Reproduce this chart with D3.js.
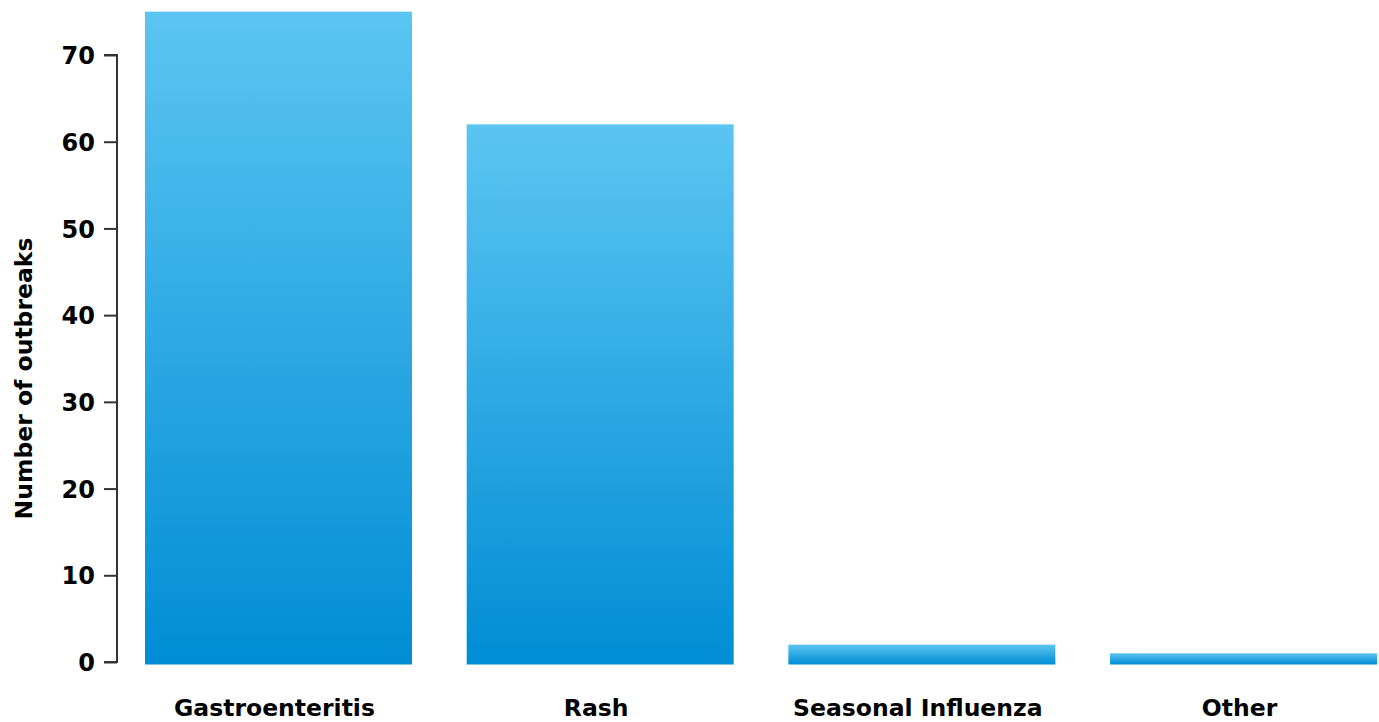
<!DOCTYPE html>
<html>
<head>
<meta charset="utf-8">
<script src="https://cdn.jsdelivr.net/npm/d3@7"></script>
<style>
  body { margin: 0; background: #fff; }
  text { font-family: "DejaVu Sans", sans-serif; font-weight: 700; fill: #000; }
</style>
</head>
<body>
<div id="chart"></div>
<script>
// chart values
var categories = ["Gastroenteritis", "Rash", "Seasonal Influenza", "Other"];
var outbreaks = [75, 62, 2, 1];
var yTicks = [0, 10, 20, 30, 40, 50, 60, 70];

var width = 1379, height = 722;

var svg = d3.select("#chart").append("svg")
    .attr("width", width)
    .attr("height", height);

var x = d3.scaleBand()
    .domain(categories)
    .range([145, 1377])
    .paddingInner(0.17)
    .paddingOuter(0);

var y = d3.scaleLinear()
    .domain([0, 70])
    .range([662, 55]);

// gradient, light at top, dark at bottom, one per bar
var defs = svg.append("defs");
var grad = defs.append("linearGradient")
    .attr("id", "barGrad")
    .attr("x1", 0).attr("y1", 0)
    .attr("x2", 0).attr("y2", 1);
grad.append("stop").attr("offset", "0%").attr("stop-color", "#5BC5F2");
grad.append("stop").attr("offset", "100%").attr("stop-color", "#008DD5");

svg.selectAll(".bar")
    .data(categories)
    .enter().append("rect")
    .attr("class", "bar")
    .attr("x", function(d){ return x(d); })
    .attr("width", x.bandwidth())
    .attr("y", function(d, i){ return y(outbreaks[i]); })
    .attr("height", function(d, i){ return y(0) - y(outbreaks[i]) + 2.5; })
    .attr("fill", "url(#barGrad)");

// y axis
var yAxis = d3.axisLeft(y)
    .tickValues(yTicks)
    .tickSize(13)
    .tickPadding(9);

var gy = svg.append("g")
    .attr("transform", "translate(117,0)")
    .call(yAxis);
gy.select(".domain")
    .attr("stroke", "#333")
    .attr("stroke-width", 2)
    .attr("d", "M-13," + y(70) + "H0V" + y(0) + "H-13");
gy.selectAll(".tick line").attr("stroke", "#333").attr("stroke-width", 2);
gy.selectAll(".tick text")
    .attr("fill", "#000")
    .attr("dy", "0.36em")
    .style("font-family", "'DejaVu Sans', sans-serif")
    .style("font-weight", 700)
    .style("font-size", "24px");

// category labels
svg.selectAll(".cat")
    .data(categories)
    .enter().append("text")
    .attr("class", "cat")
    .attr("x", function(d){ return x(d) + x.bandwidth() / 2 - 4; })
    .attr("y", 716)
    .attr("text-anchor", "middle")
    .style("font-size", "23.5px")
    .text(function(d){ return d; });

// axis title
svg.append("text")
    .attr("transform", "translate(32," + ((237 + 520) / 2) + ") rotate(-90)")
    .attr("text-anchor", "middle")
    .style("font-size", "23.5px")
    .text("Number of outbreaks");
</script>
</body>
</html>
